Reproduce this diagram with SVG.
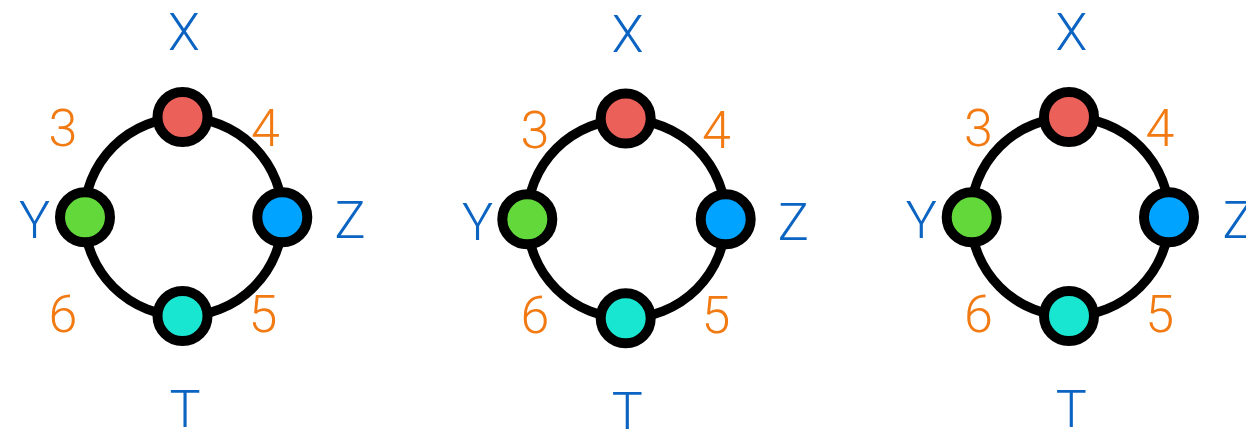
<svg xmlns="http://www.w3.org/2000/svg" width="1246" height="432" viewBox="0 0 1246 432">
<style>
.ring{fill:none;stroke:#000;stroke-width:9.5}
.node{stroke:#000;stroke-width:10}
.lbl{font-family:Roboto,"Liberation Sans",Arial,sans-serif;font-weight:300;font-size:52px;fill:#0b64c2;text-anchor:middle}
.num{font-family:Roboto,"Liberation Sans",Arial,sans-serif;font-weight:300;font-size:52px;fill:#f27a12;text-anchor:middle}
.r{fill:#ec605a}.g{fill:#62d83a}.b{fill:#00a3ff}.t{fill:#18e6d0}
</style>
<rect width="1246" height="432" fill="#fff"/>
<g id="connectors">
<circle class="ring" cx="183.5" cy="216.8" r="99.3"/>
<circle class="ring" cx="626.5" cy="218.8" r="99.3"/>
<circle class="ring" cx="1070" cy="216.8" r="99.3"/>
</g>
<g id="d1">
<g id="d1-X"><circle class="node r" cx="182.5" cy="117" r="25"/><text class="lbl" x="184" y="50">X</text></g>
<g id="d1-Y"><circle class="node g" cx="85" cy="217.3" r="25"/><text class="lbl" x="34.5" y="238">Y</text></g>
<g id="d1-Z"><circle class="node b" cx="282.3" cy="217.3" r="25"/><text class="lbl" x="350" y="238">Z</text></g>
<g id="d1-T"><circle class="node t" cx="182.5" cy="316" r="25"/><text class="lbl" x="185" y="427">T</text></g>
<text class="num" x="63" y="146">3</text>
<text class="num" x="265.5" y="146">4</text>
<text class="num" x="263" y="332">5</text>
<text class="num" x="63" y="332">6</text>
</g>
<g id="d2">
<g id="d2-X"><circle class="node r" cx="625.7" cy="118.5" r="25"/><text class="lbl" x="627.7" y="52.3">X</text></g>
<g id="d2-Y"><circle class="node g" cx="527.3" cy="219.3" r="25"/><text class="lbl" x="477.7" y="240">Y</text></g>
<g id="d2-Z"><circle class="node b" cx="725.7" cy="219.3" r="25"/><text class="lbl" x="793.3" y="240">Z</text></g>
<g id="d2-T"><circle class="node t" cx="625.7" cy="318.3" r="25"/><text class="lbl" x="627.3" y="429">T</text></g>
<text class="num" x="535" y="147.7">3</text>
<text class="num" x="716.3" y="147.7">4</text>
<text class="num" x="716" y="333.3">5</text>
<text class="num" x="535" y="333.3">6</text>
</g>
<g id="d3">
<g id="d3-X"><circle class="node r" cx="1069" cy="117" r="25"/><text class="lbl" x="1071.3" y="50">X</text></g>
<g id="d3-Y"><circle class="node g" cx="971.7" cy="217.3" r="25"/><text class="lbl" x="921.3" y="238">Y</text></g>
<g id="d3-Z"><circle class="node b" cx="1169" cy="217.3" r="25"/><text class="lbl" x="1238" y="238">Z</text></g>
<g id="d3-T"><circle class="node t" cx="1069" cy="316" r="25"/><text class="lbl" x="1071.3" y="427">T</text></g>
<text class="num" x="978.3" y="146">3</text>
<text class="num" x="1160" y="146">4</text>
<text class="num" x="1159.7" y="332">5</text>
<text class="num" x="978.3" y="332">6</text>
</g>
</svg>
